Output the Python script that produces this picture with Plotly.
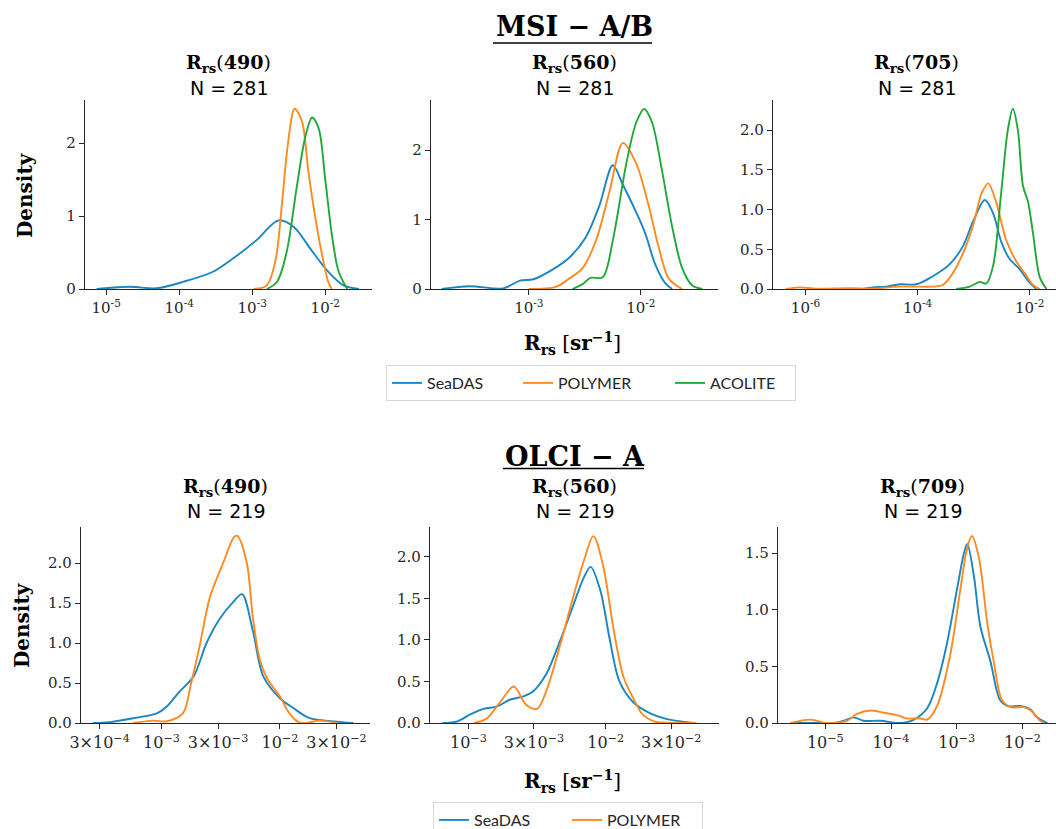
import plotly.graph_objects as go

# ---------------- data (x values are log10 of Rrs [sr^-1], y values are density) ----------------
# MSI - A/B, Rrs(490)
msi490_seadas_log = [-5.13, -4.67, -4.31, -3.94, -3.53, -3.26, -2.94, -2.64, -2.43, -2.21, -1.98, -1.75, -1.54]
msi490_seadas_den = [0, 0.03, 0.01, 0.10, 0.24, 0.42, 0.67, 0.94, 0.85, 0.56, 0.26, 0.05, 0]
msi490_polymer_log = [-2.98, -2.80, -2.68, -2.59, -2.51, -2.42, -2.32, -2.23, -2.14, -2.05, -1.96, -1.91]
msi490_polymer_den = [0, 0.05, 0.4, 1.2, 2.0, 2.47, 2.3, 1.6, 1.0, 0.5, 0.1, 0]
msi490_acolite_log = [-2.80, -2.66, -2.53, -2.39, -2.27, -2.18, -2.09, -2.0, -1.91, -1.82, -1.70]
msi490_acolite_den = [0, 0.1, 0.5, 1.4, 2.1, 2.35, 2.2, 1.5, 0.75, 0.25, 0]

# MSI - A/B, Rrs(560)
msi560_seadas_log = [-3.78, -3.53, -3.23, -3.08, -2.96, -2.82, -2.64, -2.49, -2.37, -2.25, -2.16, -2.04, -1.96, -1.87, -1.78, -1.72]
msi560_seadas_den = [0, 0.04, 0.01, 0.12, 0.14, 0.25, 0.45, 0.75, 1.2, 1.78, 1.5, 1.1, 0.8, 0.35, 0.08, 0]
msi560_polymer_log = [-3.0, -2.76, -2.64, -2.52, -2.40, -2.28, -2.16, -2.04, -1.93, -1.84, -1.75, -1.63]
msi560_polymer_den = [0, 0.03, 0.15, 0.3, 0.7, 1.4, 2.1, 1.8, 1.2, 0.6, 0.15, 0]
msi560_acolite_log = [-2.61, -2.52, -2.45, -2.34, -2.25, -2.13, -2.04, -1.97, -1.90, -1.81, -1.72, -1.63, -1.54, -1.45]
msi560_acolite_den = [0, 0.07, 0.16, 0.17, 0.7, 1.8, 2.4, 2.59, 2.4, 1.7, 0.9, 0.3, 0.05, 0]

# MSI - A/B, Rrs(705)
msi705_seadas_log = [-4.98, -4.80, -4.56, -4.32, -4.02, -3.73, -3.43, -3.19, -3.01, -2.80, -2.65, -2.51, -2.36, -2.18, -2.0, -1.88]
msi705_seadas_den = [0, 0.02, 0.03, 0.06, 0.06, 0.16, 0.31, 0.54, 0.85, 1.12, 0.95, 0.6, 0.38, 0.25, 0.08, 0]
msi705_polymer_log = [-6.35, -6.11, -5.81, -5.21, -4.80, -4.32, -3.73, -3.55, -3.37, -3.19, -3.01, -2.86, -2.74, -2.60, -2.42, -2.24, -2.09, -1.94, -1.82]
msi705_polymer_den = [0, 0.02, 0.005, 0.01, 0.005, 0.03, 0.03, 0.05, 0.2, 0.45, 0.8, 1.2, 1.33, 1.1, 0.62, 0.35, 0.2, 0.05, 0]
msi705_acolite_log = [-3.31, -3.07, -2.89, -2.77, -2.65, -2.51, -2.39, -2.30, -2.21, -2.12, -2.03, -1.94, -1.82, -1.70]
msi705_acolite_den = [0, 0.03, 0.09, 0.07, 0.3, 1.2, 2.0, 2.27, 2.0, 1.3, 1.1, 0.7, 0.15, 0]

# OLCI - A, Rrs(490)
olci490_seadas_log = [-3.58, -3.44, -3.24, -3.04, -2.96, -2.85, -2.73, -2.62, -2.51, -2.39, -2.32, -2.23, -2.14, -2.0, -1.89, -1.75, -1.55, -1.38]
olci490_seadas_den = [0, 0.01, 0.06, 0.12, 0.2, 0.39, 0.58, 1.0, 1.3, 1.52, 1.61, 1.16, 0.58, 0.31, 0.19, 0.06, 0.02, 0]
olci490_polymer_log = [-3.24, -3.07, -2.96, -2.82, -2.75, -2.68, -2.59, -2.48, -2.39, -2.36, -2.28, -2.23, -2.17, -2.11, -2.0, -1.92, -1.83, -1.66, -1.52]
olci490_polymer_den = [0, 0.03, 0.02, 0.12, 0.5, 0.95, 1.58, 2.0, 2.32, 2.34, 2.0, 1.33, 0.79, 0.56, 0.33, 0.12, 0, 0.03, 0]

# OLCI - A, Rrs(560)
olci560_seadas_log = [-3.19, -3.08, -2.99, -2.89, -2.79, -2.70, -2.60, -2.53, -2.43, -2.33, -2.24, -2.16, -2.11, -2.04, -1.97, -1.90, -1.80, -1.68, -1.56, -1.36]
olci560_seadas_den = [0, 0.02, 0.1, 0.17, 0.2, 0.28, 0.32, 0.38, 0.6, 1.0, 1.4, 1.75, 1.88, 1.6, 1.0, 0.5, 0.25, 0.12, 0.05, 0]
olci560_polymer_log = [-2.96, -2.87, -2.77, -2.67, -2.58, -2.50, -2.43, -2.33, -2.24, -2.16, -2.09, -2.02, -1.94, -1.87, -1.80, -1.73, -1.65, -1.48, -1.34]
olci560_polymer_den = [0, 0.05, 0.25, 0.44, 0.22, 0.17, 0.4, 0.95, 1.5, 1.95, 2.25, 1.9, 1.1, 0.55, 0.3, 0.1, 0.02, 0, 0]

# OLCI - A, Rrs(709)
olci709_seadas_log = [-5.53, -5.13, -4.87, -4.72, -4.57, -4.42, -4.16, -3.86, -3.65, -3.45, -3.30, -3.15, -2.99, -2.89, -2.84, -2.74, -2.64, -2.49, -2.34, -2.23, -2.03, -1.88, -1.78, -1.62]
olci709_seadas_den = [0, 0, 0, 0.02, 0.05, 0.02, 0.02, 0, 0.03, 0.13, 0.35, 0.7, 1.2, 1.5, 1.58, 1.3, 0.85, 0.55, 0.2, 0.15, 0.15, 0.12, 0.05, 0]
olci709_polymer_log = [-5.53, -5.23, -4.97, -4.67, -4.52, -4.31, -4.11, -3.91, -3.76, -3.55, -3.45, -3.30, -3.10, -2.94, -2.84, -2.77, -2.66, -2.54, -2.44, -2.31, -2.18, -1.98, -1.85, -1.75, -1.68]
olci709_polymer_den = [0, 0.03, 0, 0.02, 0.08, 0.11, 0.09, 0.07, 0.04, 0.04, 0.03, 0.15, 0.6, 1.2, 1.55, 1.65, 1.45, 0.9, 0.55, 0.2, 0.14, 0.14, 0.1, 0.03, 0]

# labels
processors = ["SeaDAS", "POLYMER", "ACOLITE"]
sensor_titles = ["MSI − A/B", "OLCI − A"]
msi_bands = ["490", "560", "705"]
olci_bands = ["490", "560", "709"]
msi_n = 281
olci_n = 219

msi_xticks = [[1e-5, 1e-4, 1e-3, 1e-2], [1e-3, 1e-2], [1e-6, 1e-4, 1e-2]]
msi_xticktext = [["10<sup>-5</sup>", "10<sup>-4</sup>", "10<sup>-3</sup>", "10<sup>-2</sup>"],
                 ["10<sup>-3</sup>", "10<sup>-2</sup>"],
                 ["10<sup>-6</sup>", "10<sup>-4</sup>", "10<sup>-2</sup>"]]
olci_xticks = [[3e-4, 1e-3, 3e-3, 1e-2, 3e-2], [1e-3, 3e-3, 1e-2, 3e-2], [1e-5, 1e-4, 1e-3, 1e-2]]
olci_xticktext = [["3×10<sup>−4</sup>", "10<sup>−3</sup>", "3×10<sup>−3</sup>", "10<sup>−2</sup>", "3×10<sup>−2</sup>"],
                  ["10<sup>−3</sup>", "3×10<sup>−3</sup>", "10<sup>−2</sup>", "3×10<sup>−2</sup>"],
                  ["10<sup>−5</sup>", "10<sup>−4</sup>", "10<sup>−3</sup>", "10<sup>−2</sup>"]]
msi_yticks = [[0, 1, 2], [0, 1, 2], [0, 0.5, 1.0, 1.5, 2.0]]
msi_yticktext = [["0", "1", "2"], ["0", "1", "2"], ["0.0", "0.5", "1.0", "1.5", "2.0"]]
olci_yticks = [[0, 0.5, 1.0, 1.5, 2.0], [0, 0.5, 1.0, 1.5, 2.0], [0, 0.5, 1.0, 1.5]]
olci_yticktext = [["0.0", "0.5", "1.0", "1.5", "2.0"], ["0.0", "0.5", "1.0", "1.5", "2.0"], ["0.0", "0.5", "1.0", "1.5"]]

# ---------------- styling / layout ----------------
W, H = 1056, 829
COLORS = {"SeaDAS": "#1b86c1", "POLYMER": "#ff8a20", "ACOLITE": "#22a73a"}
AX = "#262626"
SERIF = "DejaVu Serif"
TICKFONT = dict(family="DejaVu Serif", size=15, color=AX)
TICKFONT_BOTTOM_X = dict(family="DejaVu Serif", size=16, color=AX)


def px_x(x):
    return x / W


def px_y(y):
    return 1 - y / H


# plot areas in pixels: (left, right, top, bottom), log-x range, y max
panel_boxes = [
    ((85, 372, 100, 289), (-5.29, -1.36), 2.59),
    ((431, 718, 100, 289), (-3.875, -1.31), 2.72),
    ((773, 1056, 100, 289), (-6.58, -1.53), 2.38),
    ((81, 370, 527, 723), (-3.68, -1.24), 2.45),
    ((430, 719, 527, 723), (-3.28, -1.175), 2.36),
    ((778, 1056, 527, 723), (-5.72, -1.49), 1.73),
]
title_centers = [228.5, 574.5, 916.5, 225.5, 574.5, 922.5]

panels_series = [
    [("SeaDAS", msi490_seadas_log, msi490_seadas_den), ("POLYMER", msi490_polymer_log, msi490_polymer_den),
     ("ACOLITE", msi490_acolite_log, msi490_acolite_den)],
    [("SeaDAS", msi560_seadas_log, msi560_seadas_den), ("POLYMER", msi560_polymer_log, msi560_polymer_den),
     ("ACOLITE", msi560_acolite_log, msi560_acolite_den)],
    [("SeaDAS", msi705_seadas_log, msi705_seadas_den), ("POLYMER", msi705_polymer_log, msi705_polymer_den),
     ("ACOLITE", msi705_acolite_log, msi705_acolite_den)],
    [("SeaDAS", olci490_seadas_log, olci490_seadas_den), ("POLYMER", olci490_polymer_log, olci490_polymer_den)],
    [("SeaDAS", olci560_seadas_log, olci560_seadas_den), ("POLYMER", olci560_polymer_log, olci560_polymer_den)],
    [("SeaDAS", olci709_seadas_log, olci709_seadas_den), ("POLYMER", olci709_polymer_log, olci709_polymer_den)],
]
xticks_all = msi_xticks + olci_xticks
xtext_all = msi_xticktext + olci_xticktext
yticks_all = msi_yticks + olci_yticks
ytext_all = msi_yticktext + olci_yticktext
bands_all = msi_bands + olci_bands
n_all = [msi_n] * 3 + [olci_n] * 3

legend_widths = {
    "legend": {"SeaDAS": 86, "POLYMER": 107, "ACOLITE": 80},
    "legend2": {"SeaDAS": 88, "POLYMER": 90},
}

fig = go.Figure()
layout = dict(width=W, height=H, margin=dict(l=0, r=0, t=0, b=0, autoexpand=False), autosize=False,
              paper_bgcolor="white", plot_bgcolor="white", showlegend=True)

annotations = []
shapes = []

for i, (box, rng, ymax) in enumerate(panel_boxes):
    k = "" if i == 0 else str(i + 1)
    left, right, top, bottom = box
    legend_name = "legend" if i == 0 else ("legend2" if i == 3 else None)
    for name, xs, ys in panels_series[i]:
        tr = dict(
            x=[10 ** v for v in xs], y=ys, mode="lines", name=name,
            line=dict(color=COLORS[name], width=1.9, shape="spline", smoothing=0.9),
            xaxis="x" + k, yaxis="y" + k, hoverinfo="skip",
            showlegend=legend_name is not None,
        )
        if legend_name:
            tr["legend"] = legend_name
            tr["legendwidth"] = legend_widths[legend_name][name]
        fig.add_trace(go.Scatter(**tr))

    common = dict(showline=True, linecolor=AX, linewidth=1.2, mirror=False, showgrid=False,
                  zeroline=False, ticks="outside", ticklen=5, tickwidth=1.2, tickcolor=AX,
                  tickfont=TICKFONT, fixedrange=True, automargin=False)
    layout["xaxis" + k] = dict(common, type="log", range=list(rng),
                               domain=[px_x(left), px_x(right)], anchor="y" + k,
                               tickmode="array", tickvals=xticks_all[i], ticktext=xtext_all[i])
    if i >= 3:
        layout["xaxis" + k]["tickfont"] = TICKFONT_BOTTOM_X
    layout["yaxis" + k] = dict(common, range=[0, ymax], domain=[px_y(bottom), px_y(top)],
                               anchor="x" + k, tickmode="array", tickvals=yticks_all[i],
                               ticktext=ytext_all[i])

    # panel titles
    cx = title_centers[i]
    y1, y2 = (63, 88) if i < 3 else (487, 511)
    annotations.append(dict(
        text="<b>R<sub>rs</sub></b>(<b>%s</b>)" % bands_all[i],
        x=px_x(cx), y=px_y(y1), xref="paper", yref="paper", showarrow=False,
        xanchor="center", yanchor="middle", font=dict(family=SERIF, size=19, color="black")))
    annotations.append(dict(
        text="N = %d" % n_all[i],
        x=px_x(cx), y=px_y(y2), xref="paper", yref="paper", showarrow=False,
        xanchor="center", yanchor="middle", font=dict(family="DejaVu Sans", size=19, color="black")))

# sensor titles with fraction-style rule
for title, (cy, ly, lx0, lx1) in zip(sensor_titles, [(27, 43, 493, 652), (456, 468.5, 503, 644)]):
    annotations.append(dict(
        text="<b>%s</b>" % title, x=px_x(574.5), y=px_y(cy), xref="paper", yref="paper",
        showarrow=False, xanchor="center", yanchor="middle",
        font=dict(family=SERIF, size=27, color="black")))
    shapes.append(dict(type="line", xref="paper", yref="paper", x0=px_x(lx0), x1=px_x(lx1),
                       y0=px_y(ly), y1=px_y(ly), line=dict(color="black", width=1.6)))

# y-axis titles
for (x, y) in [(25, 195), (22, 625)]:
    annotations.append(dict(
        text="<b>Density</b>", x=px_x(x), y=px_y(y), xref="paper", yref="paper", showarrow=False,
        textangle=-90, xanchor="center", yanchor="middle",
        font=dict(family=SERIF, size=20, color="black")))

# x-axis titles
for (x, y) in [(572, 343), (572, 781)]:
    annotations.append(dict(
        text="<b>R<sub>rs</sub></b> [<b>sr<sup>−1</sup></b>]", x=px_x(x), y=px_y(y),
        xref="paper", yref="paper", showarrow=False, xanchor="center", yanchor="middle",
        font=dict(family=SERIF, size=20, color="black")))

legend_common = dict(orientation="h", xanchor="left", yanchor="top", bgcolor="white",
                     bordercolor="#d6d6d6", borderwidth=1,
                     font=dict(family="Lato", size=16, color=AX), itemclick=False,
                     itemdoubleclick=False)
layout["legend"] = dict(legend_common, x=px_x(386), y=px_y(365))
layout["legend2"] = dict(legend_common, x=px_x(433), y=px_y(802))
layout["annotations"] = annotations
layout["shapes"] = shapes

fig.update_layout(**layout)
fig.write_html(
    "out.html",
    config={"displayModeBar": False},
    post_script="document.body.style.margin='0';document.body.style.padding='0';"
                "document.body.style.overflow='hidden';",
)
